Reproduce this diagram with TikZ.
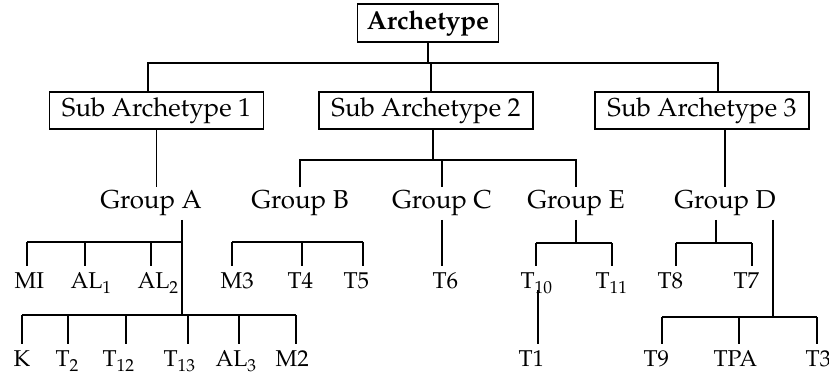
\documentclass[tikz,border=0pt]{standalone}
\usepackage[T1]{fontenc}
\usepackage{mathpazo}
\begin{document}
\begin{tikzpicture}[
    x=0.5bp, y=-0.5bp,
    line width=0.6bp,
    box/.style={draw, font=\fontsize{13}{15}\selectfont, minimum height=18.5bp,
                inner xsep=6.2bp, inner ysep=2bp},
    grp/.style={anchor=base, inner sep=1.5bp, font=\fontsize{13}{15}\selectfont},
    leaf/.style={anchor=base west, inner xsep=0pt, inner ysep=3.5bp,
                 font=\fontsize{11.5}{13}\selectfont}
  ]
  \useasboundingbox (0,0) rectangle (829,381);

  % top of the tree
  \node[box, minimum height=19bp, inner xsep=4.5bp, font=\fontsize{13}{15}\selectfont\bfseries]
    (root) at (428,23) {Archetype};
  \node[box] (sub1) at (156.5,110.5) {Sub Archetype 1};
  \node[box] (sub2) at (426,110.5) {Sub Archetype 2};
  \node[box] (sub3) at (702,110.5) {Sub Archetype 3};

  \coordinate (r1) at (148,63);
  \coordinate (r2) at (431,63);
  \coordinate (r3) at (718,63);
  \draw (root.south) -- (root.south |- r1);
  \draw (r1 |- sub1.north) -- (r1) -- (r3) -- (r3 |- sub3.north);
  \draw (r2) -- (r2 |- sub2.north);

  % groups
  \node[grp] (gA) at (151,209) {Group A};
  \node[grp] (gB) at (300,209) {Group B};
  \node[grp] (gC) at (442,209) {Group C};
  \node[grp] (gE) at (576,209) {Group E};
  \node[grp] (gD) at (725,209) {Group D};

  \draw (sub1.south) -- (sub1.south |- gA.north);
  \coordinate (s2) at (433,160);
  \draw (sub2.south -| s2) -- (s2);
  \draw (gB.north) -- (gB.north |- s2) -- (gE.north |- s2) -- (gE.north);
  \draw (gC.north |- s2) -- (gC.north);
  \draw (sub3.south -| gD.north) -- (gD.north);

  % leaves, second row
  \node[leaf] (mi)  at (14,289)  {MI};
  \node[leaf] (al1) at (70,289)  {AL$_1$};
  \node[leaf] (al2) at (137,289) {AL$_2$};
  \node[leaf] (m3)  at (220,289) {M3};
  \node[leaf] (t4)  at (287,289) {T4};
  \node[leaf] (t5)  at (343,289) {T5};
  \node[leaf] (t6)  at (432,289) {T6};
  \node[leaf] (t10) at (520,289) {T$_{10}$};
  \node[leaf] (t11) at (595,289) {T$_{11}$};
  \node[leaf] (t8)  at (657,289) {T8};
  \node[leaf] (t7)  at (733,289) {T7};

  % leaves, third row
  \node[leaf] (k)   at (13,367)  {K};
  \node[leaf] (t2)  at (55,367)  {T$_2$};
  \node[leaf] (t12) at (102,367) {T$_{12}$};
  \node[leaf] (t13) at (163,367) {T$_{13}$};
  \node[leaf] (al3) at (215,367) {AL$_3$};
  \node[leaf] (m2)  at (275,367) {M2};
  \node[leaf] (t1)  at (518,367) {T1};
  \node[leaf] (t9)  at (643,367) {T9};
  \node[leaf] (tpa) at (713,367) {TPA};
  \node[leaf] (t3)  at (805,367) {T3};

  % Group A
  \coordinate (a1) at (182,242);
  \coordinate (a2) at (182,315);
  \draw (a1 |- gA.south) -- (a2);
  \foreach \n/\x in {mi/27, al1/85, al2/151}{
    \coordinate (d-\n) at (\x,242);
    \draw (d-\n) -- (d-\n |- \n.north);
  }
  \draw (d-mi) -- (a1);
  \foreach \n/\x in {k/22, t2/68, t12/126, t13/188, al3/239, m2/296}{
    \coordinate (d-\n) at (\x,315);
    \draw (d-\n) -- (d-\n |- \n.north);
  }
  \draw (d-k) -- (d-m2);

  % Group B
  \foreach \n/\x in {m3/232, t4/302, t5/363}{
    \coordinate (d-\n) at (\x,242);
    \draw (d-\n) -- (d-\n |- \n.north);
  }
  \draw (d-m3) -- (d-t5);

  % Group C
  \draw (gC.south) -- (gC.south |- t6.north);

  % Group E
  \coordinate (e0) at (576,243);
  \draw (gE.south) -- (e0);
  \foreach \n/\x in {t10/536, t11/612}{
    \coordinate (d-\n) at (\x,243);
    \draw (d-\n) -- (d-\n |- \n.north);
  }
  \draw (d-t10) -- (d-t11);
  \coordinate (e1) at (538,290);
  \draw (e1) -- (e1 |- t1.north);

  % Group D
  \coordinate (dd) at (716,243);
  \draw (dd |- gD.south) -- (dd);
  \foreach \n/\x in {t8/676, t7/752}{
    \coordinate (d-\n) at (\x,243);
    \draw (d-\n) -- (d-\n |- \n.north);
  }
  \draw (d-t8) -- (d-t7);
  \coordinate (dl) at (773,317);
  \draw (dl |- gD.south) -- (dl);
  \foreach \n/\x in {t9/662, tpa/739, t3/817}{
    \coordinate (d-\n) at (\x,317);
    \draw (d-\n) -- (d-\n |- \n.north);
  }
  \draw (d-t9) -- (d-t3);
\end{tikzpicture}
\end{document}
